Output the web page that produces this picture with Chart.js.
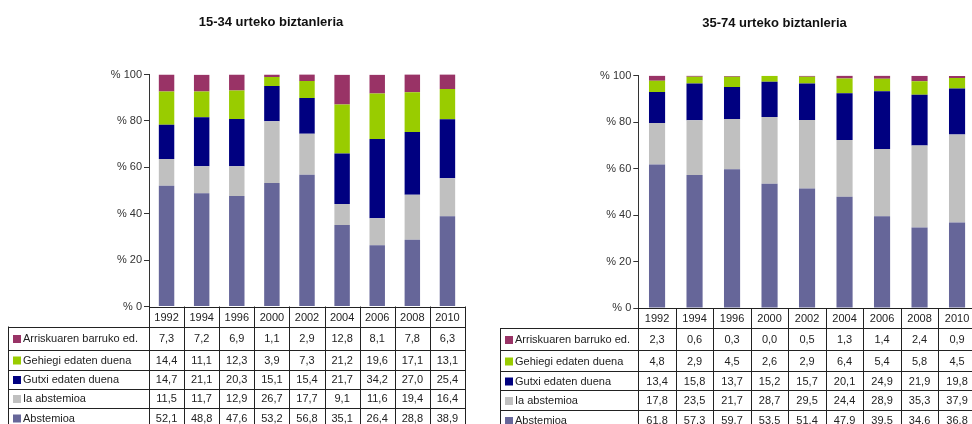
<!DOCTYPE html>
<html lang="eu">
<head>
  <meta charset="UTF-8">
  <title>Edateko ohiturak</title>
  <script src="https://cdn.jsdelivr.net/npm/chart.js@4.4.0/dist/chart.umd.min.js"></script>
  <style>
    body { margin: 0; width: 972px; height: 424px; overflow: hidden; position: relative; background: #fff; }
    canvas { position: absolute; top: 0; }
  </style>
</head>
<body>
  <canvas id="young" width="486" height="424" style="left:0"></canvas>
  <canvas id="adult" width="500" height="424" style="left:486px"></canvas>

<script>
  const years = ['1992', '1994', '1996', '2000', '2002', '2004', '2006', '2008', '2010'];
  const seriesNames = ['Abstemioa', 'Ia abstemioa', 'Gutxi edaten duena', 'Gehiegi edaten duena', 'Arriskuaren barruko ed.'];
  const seriesColors = ['#666699', '#C0C0C0', '#000080', '#99CC00', '#993366'];
  const yTicks = [0, 20, 40, 60, 80, 100];

  // 15-34 urte
  const abst1534 = [52.1, 48.8, 47.6, 53.2, 56.8, 35.1, 26.4, 28.8, 38.9];
  const iaAbst1534 = [11.5, 11.7, 12.9, 26.7, 17.7, 9.1, 11.6, 19.4, 16.4];
  const gutxi1534 = [14.7, 21.1, 20.3, 15.1, 15.4, 21.7, 34.2, 27.0, 25.4];
  const gehiegi1534 = [14.4, 11.1, 12.3, 3.9, 7.3, 21.2, 19.6, 17.1, 13.1];
  const arrisku1534 = [7.3, 7.2, 6.9, 1.1, 2.9, 12.8, 8.1, 7.8, 6.3];

  // 35-74 urte
  const abst3574 = [61.8, 57.3, 59.7, 53.5, 51.4, 47.9, 39.5, 34.6, 36.8];
  const iaAbst3574 = [17.8, 23.5, 21.7, 28.7, 29.5, 24.4, 28.9, 35.3, 37.9];
  const gutxi3574 = [13.4, 15.8, 13.7, 15.2, 15.7, 20.1, 24.9, 21.9, 19.8];
  const gehiegi3574 = [4.8, 2.9, 4.5, 2.6, 2.9, 6.4, 5.4, 5.8, 4.5];
  const arrisku3574 = [2.3, 0.6, 0.3, 0.0, 0.5, 1.3, 1.4, 2.4, 0.9];

  const FONT = "'Liberation Sans', Arial, sans-serif";

  function fmt(v) {
    return v.toFixed(1).replace('.', ',');
  }

  // draws the title and the data table under the bars
  const tablePlugin = {
    id: 'dataTable',
    afterDraw(chart, args, opts) {
      const ctx = chart.ctx;
      const x = chart.scales.x;
      const area = chart.chartArea;
      const colW = x.getPixelForValue(1) - x.getPixelForValue(0);
      const colsLeft = x.getPixelForValue(0) - colW / 2;
      const colsRight = colsLeft + colW * years.length;
      const headTop = area.bottom;
      const rowsTop = headTop + opts.headH;
      const rowTops = [rowsTop];
      opts.rowH.forEach(h => rowTops.push(rowTops[rowTops.length - 1] + h));
      const bottom = rowTops[rowTops.length - 1];

      ctx.save();
      // title
      ctx.font = 'bold 13px ' + FONT;
      ctx.fillStyle = '#111';
      ctx.textAlign = 'center';
      ctx.textBaseline = 'middle';
      ctx.fillText(opts.title, opts.titleX, opts.titleY);

      // lines
      ctx.strokeStyle = '#222';
      ctx.lineWidth = 1;
      ctx.beginPath();
      ctx.moveTo(colsLeft, Math.round(headTop) + 0.5);
      ctx.lineTo(colsRight, Math.round(headTop) + 0.5);
      rowTops.forEach(t => {
        ctx.moveTo(opts.labelLeft, Math.round(t) + 0.5);
        ctx.lineTo(colsRight, Math.round(t) + 0.5);
      });
      for (let i = 0; i <= years.length; i++) {
        const xx = Math.round(colsLeft + colW * i) + 0.5;
        ctx.moveTo(xx, headTop);
        ctx.lineTo(xx, bottom);
      }
      ctx.moveTo(Math.round(opts.labelLeft) + 0.5, rowsTop);
      ctx.lineTo(Math.round(opts.labelLeft) + 0.5, bottom);
      ctx.stroke();

      // header
      ctx.font = '11px ' + FONT;
      ctx.fillStyle = '#222';
      years.forEach((y, i) => {
        ctx.fillText(y, x.getPixelForValue(i), headTop + opts.headH / 2 + 1);
      });

      // rows, top row is the last dataset
      const ds = chart.data.datasets;
      for (let r = 0; r < ds.length; r++) {
        const d = ds[ds.length - 1 - r];
        const cy = (rowTops[r] + rowTops[r + 1]) / 2 + 1;
        ctx.fillStyle = d.backgroundColor;
        ctx.fillRect(opts.labelLeft + 5, cy - 4, 8, 8);
        ctx.fillStyle = '#222';
        ctx.textAlign = 'left';
        ctx.fillText(d.label, opts.labelLeft + 15, cy);
        ctx.textAlign = 'center';
        d.data.forEach((v, i) => {
          ctx.fillText(fmt(v), x.getPixelForValue(i), cy);
        });
      }
      ctx.restore();
    }
  };

  function makeChart(id, series, cfg) {
    const ctx = document.getElementById(id).getContext('2d');
    return new Chart(ctx, {
      type: 'bar',
      data: {
        labels: years,
        datasets: series.map((data, i) => ({
          label: seriesNames[i],
          data: data,
          backgroundColor: seriesColors[i],
          borderWidth: 0,
          barPercentage: cfg.barPct,
          categoryPercentage: 1
        }))
      },
      options: {
        responsive: false,
        animation: false,
        devicePixelRatio: 1,
        layout: { padding: cfg.padding },
        plugins: {
          legend: { display: false },
          tooltip: { enabled: false },
          dataTable: cfg.table
        },
        scales: {
          x: { stacked: true, display: false },
          y: {
            stacked: true,
            min: 0,
            max: 100,
            afterFit: s => { s.width = cfg.axisWidth; },
            afterBuildTicks: s => { s.ticks = yTicks.map(v => ({ value: v })); },
            border: { display: true, color: '#333' },
            grid: { drawOnChartArea: false, drawTicks: true, tickLength: 5, color: '#333' },
            ticks: {
              padding: 2,
              color: '#333',
              font: { family: FONT, size: 11 },
              callback: v => '% ' + v
            }
          }
        }
      },
      plugins: [tablePlugin]
    });
  }

  makeChart('young', [abst1534, iaAbst1534, gutxi1534, gehiegi1534, arrisku1534], {
    barPct: 0.44,
    axisWidth: 149,
    padding: { left: 0, right: 21, top: 74.5, bottom: 117.5 },
    table: {
      title: '15-34 urteko biztanleria', titleX: 271, titleY: 22,
      labelLeft: 8, headH: 20, rowH: [23, 20, 19, 19, 20]
    }
  });

  makeChart('adult', [abst3574, iaAbst3574, gutxi3574, gehiegi3574, arrisku3574], {
    barPct: 0.43,
    axisWidth: 152.3,
    padding: { left: 0, right: 10.2, top: 75.7, bottom: 116 },
    table: {
      title: '35-74 urteko biztanleria', titleX: 288.5, titleY: 23,
      labelLeft: 14, headH: 20, rowH: [22, 21, 19, 20, 20]
    }
  });
</script>
</body>
</html>
